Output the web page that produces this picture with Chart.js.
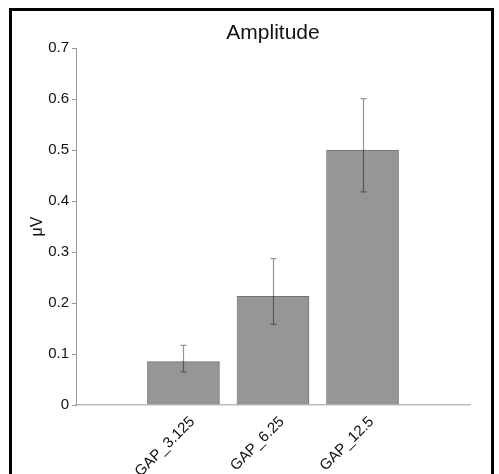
<!DOCTYPE html>
<html>
<head>
<meta charset="utf-8">
<script src="https://cdn.jsdelivr.net/npm/chart.js@4/dist/chart.umd.min.js"></script>
<style>
  html, body { margin: 0; padding: 0; background: #ffffff; }
  #wrap { position: relative; width: 499px; height: 474px; overflow: hidden; }
  #frame { position: absolute; left: 9px; top: 8px; width: 485px; height: 480px; border: 3px solid #000; box-sizing: border-box; pointer-events: none; }
  canvas { position: absolute; left: 0; top: 0; }
</style>
</head>
<body>
<div id="wrap">
  <canvas id="c" width="499" height="474"></canvas>
  <div id="frame"></div>
</div>
<script>
// ---- data ----
const categories = ["GAP_3.125", "GAP_6.25", "GAP_12.5"];
const positions = [1, 2, 3];
const amplitude = [0.085, 0.213, 0.500];
const errUpper = [0.117, 0.287, 0.601];
const errLower = [0.065, 0.158, 0.418];
const yTicks = [0, 0.1, 0.2, 0.3, 0.4, 0.5, 0.6, 0.7];
const yTickLabels = ["0", "0.1", "0.2", "0.3", "0.4", "0.5", "0.6", "0.7"];

const FONT = "'Liberation Sans', Arial, sans-serif";

const errorBars = {
  id: 'errorBars',
  afterDatasetsDraw(chart) {
    const ctx = chart.ctx;
    const meta = chart.getDatasetMeta(0);
    const y = chart.scales.y;
    ctx.save();
    ctx.strokeStyle = 'rgba(0,0,0,0.42)';
    ctx.lineWidth = 1.2;
    meta.data.forEach((bar, i) => {
      const x = Math.round(bar.x) + 0.5;
      const yt = y.getPixelForValue(errUpper[i]);
      const yb = y.getPixelForValue(errLower[i]);
      ctx.beginPath();
      ctx.moveTo(x, yt); ctx.lineTo(x, yb);
      ctx.moveTo(x - 3, yt); ctx.lineTo(x + 3, yt);
      ctx.moveTo(x - 3, yb); ctx.lineTo(x + 3, yb);
      ctx.stroke();
    });
    ctx.restore();
  }
};

new Chart(document.getElementById('c'), {
  type: 'bar',
  data: {
    datasets: [{
      data: positions.map((p, i) => ({ x: p, y: amplitude[i] })),
      backgroundColor: '#969696',
      borderColor: '#737373',
      borderWidth: { top: 1, right: 1, left: 0.5, bottom: 0 },
      borderSkipped: false,
      barThickness: 72
    }]
  },
  options: {
    responsive: false,
    animation: false,
    devicePixelRatio: 1,
    layout: { padding: { left: 12, right: 29, top: 10, bottom: 0 } },
    plugins: {
      legend: { display: false },
      tooltip: { enabled: false },
      title: {
        display: true,
        text: 'Amplitude',
        fullSize: false,
        color: '#111',
        font: { family: FONT, size: 21, weight: 'normal' },
        padding: { top: 11, bottom: 2 }
      }
    },
    scales: {
      x: {
        type: 'linear',
        offset: false,
        bounds: 'ticks',
        min: -0.2,
        max: 4.2,
        afterBuildTicks(scale) { scale.ticks = positions.map(v => ({ value: v })); },
        ticks: {
          autoSkip: false,
          minRotation: 45,
          maxRotation: 45,
          color: '#111',
          font: { family: FONT, size: 15 },
          padding: 0,
          labelOffset: 9,
          callback: (v, i) => categories[i]
        },
        grid: { display: false },
        border: { display: true, color: '#bdbdbd', width: 1.5 },
        afterFit(scale) { scale.height = 69; }
      },
      y: {
        min: 0,
        max: 0.7,
        afterBuildTicks(scale) { scale.ticks = yTicks.map(v => ({ value: v })); },
        ticks: {
          color: '#111',
          font: { family: FONT, size: 15 },
          padding: 3,
          callback: (v, i) => yTickLabels[i]
        },
        grid: { drawOnChartArea: false, drawTicks: true, tickLength: 4, color: '#9a9a9a' },
        border: { display: true, color: '#9a9a9a', width: 1 },
        title: {
          display: true,
          text: 'μV',
          color: '#111',
          font: { family: FONT, size: 16 },
          padding: { top: 16, bottom: 0 }
        },
        afterFit(scale) { scale.width = 64; }
      }
    }
  },
  plugins: [errorBars]
});
</script>
</body>
</html>
